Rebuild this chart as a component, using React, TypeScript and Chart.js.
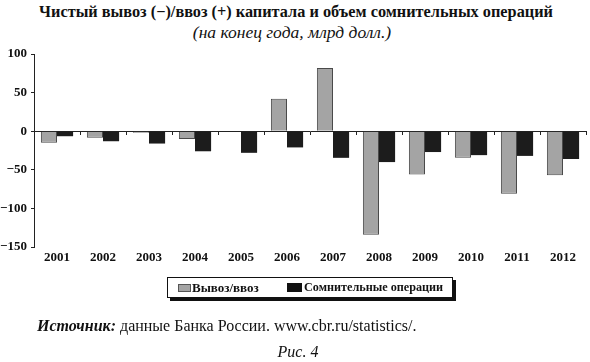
import React, { useEffect, useRef } from "react";
import { Chart, registerables } from "chart.js";

Chart.register(...registerables);

const years = ["2001", "2002", "2003", "2004", "2005", "2006", "2007", "2008", "2009", "2010", "2011", "2012"];
const netFlow = [-15, -8.5, -2, -10, 0, 42, 82, -134, -56, -34.5, -81, -57];
const doubtful = [-6.5, -13, -16, -26, -28, -21, -34.5, -40, -27, -31, -32, -36];
const yMin = -150;
const yMax = 100;
const yStep = 50;

const titleText = "Чистый вывоз (−)/ввоз (+) капитала и объем сомнительных операций";
const subtitleText = "(на конец года, млрд долл.)";
const seriesNames = ["Вывоз/ввоз", "Сомнительные операции"];

const SERIF = "'Liberation Serif', 'Times New Roman', serif";

export default function App() {
  const canvasRef = useRef<HTMLCanvasElement | null>(null);

  useEffect(() => {
    if (!canvasRef.current) return;
    const chart = new Chart(canvasRef.current, {
      type: "bar",
      data: {
        labels: years,
        datasets: [
          {
            label: seriesNames[0],
            data: netFlow,
            backgroundColor: "#a4a4a4",
            borderColor: "#4a4a4a",
            borderWidth: 1,
            categoryPercentage: 0.7,
            barPercentage: 1.0,
          },
          {
            label: seriesNames[1],
            data: doubtful,
            backgroundColor: "#1c1c1c",
            borderColor: "#1c1c1c",
            borderWidth: 0,
            categoryPercentage: 0.7,
            barPercentage: 1.0,
          },
        ],
      },
      options: {
        animation: false,
        responsive: false,
        maintainAspectRatio: false,
        layout: { padding: { left: 0, right: 4, top: 54, bottom: 95 } },
        plugins: {
          legend: { display: false },
          title: { display: false },
          tooltip: { enabled: false },
        },
        scales: {
          x: {
            type: "category",
            position: "bottom",
            offset: true,
            grid: { display: false, drawTicks: false, offset: true },
            border: { display: false },
            ticks: {
              color: "#111",
              padding: 3,
              maxRotation: 0,
              autoSkip: false,
              font: { family: SERIF, size: 13, weight: "bold" },
            },
            afterFit: (s: any) => {
              s.height = 20;
            },
          },
          x2: {
            type: "category",
            position: { y: 0 } as any,
            offset: true,
            grid: {
              offset: true,
              drawOnChartArea: false,
              drawTicks: true,
              tickLength: 3,
              color: "#222",
              lineWidth: 1,
            },
            border: { display: true, color: "#222", width: 1 },
            ticks: { display: false },
          },
          y: {
            min: yMin,
            max: yMax,
            grid: {
              drawOnChartArea: false,
              drawTicks: true,
              tickLength: 3,
              color: "#222",
            },
            border: { display: true, color: "#222", width: 1 },
            ticks: {
              stepSize: yStep,
              color: "#111",
              padding: 4,
              font: { family: SERIF, size: 13, weight: "bold" },
              callback: (v: any) => String(v).replace("-", "−"),
            },
            afterFit: (s: any) => {
              s.width = 34;
            },
          },
        },
      } as any,
    });
    return () => chart.destroy();
  }, []);

  return (
    <div style={{ position: "absolute", left: 0, top: 0, width: 590, height: 362, background: "#fff", fontFamily: SERIF, color: "#111" }}>
      <div style={{ position: "absolute", left: 0, top: 2, width: 592, textAlign: "center", fontWeight: "bold", fontSize: 16.3, lineHeight: "20px", whiteSpace: "nowrap" }}>
        {titleText}
      </div>
      <div style={{ position: "absolute", left: 0, top: 22, width: 584, textAlign: "center", fontStyle: "italic", fontSize: 17.5, lineHeight: "21px", whiteSpace: "nowrap" }}>
        {subtitleText}
      </div>
      <canvas ref={canvasRef} width={590} height={362} style={{ position: "absolute", left: 0, top: 0, width: 590, height: 362 }} />
      <div
        style={{
          position: "absolute",
          left: 167,
          top: 277,
          width: 284,
          height: 19,
          border: "1px solid #111",
          boxShadow: "3px 3px 0 #111",
          background: "#fff",
          fontWeight: "bold",
          lineHeight: "19px",
          whiteSpace: "nowrap",
        }}
      >
        <span style={{ position: "absolute", left: 10, top: 6, width: 11, height: 6, background: "#a4a4a4", border: "1px solid #555" }} />
        <span style={{ position: "absolute", left: 24, top: 0, fontSize: 13 }}>{seriesNames[0]}</span>
        <span style={{ position: "absolute", left: 119, top: 5, width: 15, height: 9, background: "#111" }} />
        <span style={{ position: "absolute", left: 136, top: 0, fontSize: 12.2 }}>{seriesNames[1]}</span>
      </div>
      <div style={{ position: "absolute", left: 37, top: 316, fontSize: 16, lineHeight: "19px", whiteSpace: "nowrap" }}>
        <span style={{ fontStyle: "italic", fontWeight: "bold" }}>Источник:</span> данные Банка России. www.cbr.ru/statistics/.
      </div>
      <div style={{ position: "absolute", left: 0, top: 342, width: 596, textAlign: "center", fontStyle: "italic", fontSize: 16, lineHeight: "19px" }}>
        Рис. 4
      </div>
    </div>
  );
}
